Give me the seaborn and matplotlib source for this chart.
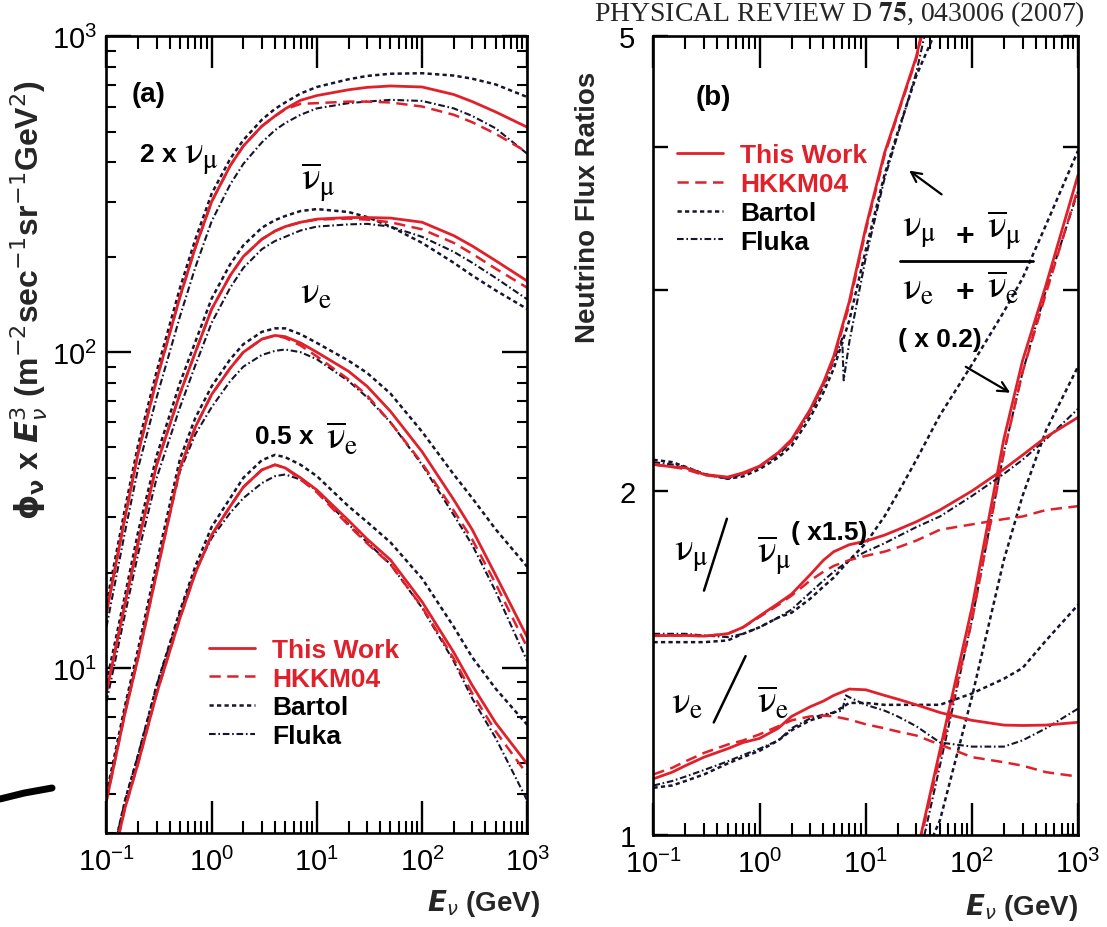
import numpy as np
import pandas as pd
import matplotlib
matplotlib.use("Agg")
import matplotlib.pyplot as plt
import matplotlib.ticker as mticker
from matplotlib.lines import Line2D
import seaborn as sns

# ---------------- data : panel (a)  phi * E^3 ----------------
E_a = [0.1, 0.15, 0.2, 0.3, 0.5, 0.7, 1, 1.5, 2, 3, 4, 5, 7, 10, 20, 30, 50, 100, 200, 300, 500, 1000]

numu2_this = [15, 30, 48, 82, 150, 215, 300, 390, 450, 520, 560, 590, 628, 650, 678, 690, 697, 692, 655, 622, 577, 516]
numu2_hkkm = [15, 30, 48, 82, 150, 215, 300, 390, 450, 520, 560, 588, 612, 615, 622, 622, 618, 600, 565, 535, 492, 430]
numu2_bart = [16, 32, 51, 87, 160, 228, 318, 410, 470, 545, 590, 618, 660, 692, 732, 750, 762, 765, 752, 735, 705, 643]
numu2_fluk = [13.5, 27, 43, 72, 130, 186, 260, 340, 395, 462, 505, 532, 565, 592, 615, 622, 630, 625, 592, 560, 512, 425]

numubar_this = [8.4, 16, 25, 44, 74, 100, 137, 175, 201, 228, 242, 250, 258, 264, 267, 267, 266, 258, 234, 217, 195, 168]
numubar_hkkm = [8.4, 16, 25, 44, 74, 100, 137, 175, 201, 228, 242, 250, 258, 263, 265, 263, 258, 245, 222, 205, 184, 160]
numubar_bart = [9.0, 17, 27, 47, 80, 108, 148, 190, 218, 248, 262, 270, 280, 284, 278, 268, 250, 222, 192, 175, 157, 137]
numubar_fluk = [7.8, 14.8, 23, 40, 67, 91, 124, 160, 185, 212, 225, 232, 243, 250, 254, 255, 250, 232, 208, 192, 172, 147]

nue_this = [3.8, 7.2, 10.8, 20, 43, 58, 73.5, 89, 100, 110, 113, 112, 107, 100, 87, 78, 65, 48.4, 34.1, 27.4, 19.7, 12.5]
nue_hkkm = [3.8, 7.2, 10.8, 20, 43, 58, 73.5, 89, 100, 110, 113, 111, 105, 97, 82, 73, 60, 44.5, 31.5, 25.5, 18.5, 11.6]
nue_bart = [4.0, 7.6, 11.5, 21.5, 46, 62, 78, 95, 106, 116, 119, 119, 114, 107, 94, 86, 74, 56, 41, 34.5, 27.5, 20.9]
nue_fluk = [3.9, 7.4, 11.0, 20.5, 42, 55, 67, 81, 90, 98, 101, 102, 100, 95, 81, 72, 60, 44, 30.5, 24.5, 17.5, 10.5]

nuebar5_this = [2.0, 3.6, 5.0, 8.3, 14.4, 20, 26.4, 32.5, 37.4, 42.4, 44, 43, 40, 36.6, 29.3, 25.6, 22.0, 16.2, 11.2, 8.8, 6.7, 4.96]
nuebar5_hkkm = [2.0, 3.6, 5.0, 8.3, 14.4, 20, 26.4, 32.5, 37.4, 42.4, 44, 43, 39.5, 36, 28.3, 24.8, 21.3, 15.6, 10.7, 8.3, 6.3, 4.6]
nuebar5_bart = [2.1, 3.8, 5.3, 8.8, 15.2, 21, 28, 34.5, 40, 45.5, 47.3, 46.5, 44, 40.5, 32.5, 29, 25, 19.2, 13.5, 10.8, 8.6, 6.6]
nuebar5_fluk = [2.1, 3.8, 5.3, 8.8, 15.0, 20.3, 25.8, 31, 34.5, 38.5, 40.5, 41, 39.5, 36.5, 28.5, 25, 21.3, 15.5, 10.5, 8.0, 6.0, 3.8]

# ---------------- data : panel (b)  flux ratios ----------------
E_b = [0.1, 0.15, 0.2, 0.3, 0.5, 0.7, 1, 1.5, 2, 3, 4, 5, 7, 10, 15, 20, 30, 50, 100, 200, 300, 500, 1000]

# (numu + numubar) / (nue + nuebar)  (drawn as is, and x 0.2)
mue_this = [2.11, 2.10, 2.096, 2.068, 2.057, 2.075, 2.103, 2.161, 2.219, 2.358, 2.49, 2.625, 2.93, 3.40, 3.95, 4.28, 4.80, 5.93, 7.9, 11.1, 13.0, 15.15, 18.9]
mue_hkkm = [2.11, 2.10, 2.09, 2.065, 2.055, 2.07, 2.10, 2.16, 2.21, 2.35, 2.48, 2.61, 2.91, 3.38, 3.93, 4.27, 4.78, 5.85, 7.7, 10.8, 12.7, 14.9, 18.4]
mue_bart = [2.13, 2.12, 2.10, 2.07, 2.05, 2.06, 2.09, 2.14, 2.19, 2.32, 2.44, 2.56, 2.82, 3.25, 3.78, 4.12, 4.62, 5.15, 6.6, 8.7, 9.9, 11.3, 12.85]
E_fl = [0.1, 0.15, 0.2, 0.3, 0.5, 0.7, 1, 1.5, 2, 3, 4, 5, 6, 6.2, 7, 10, 15, 20, 30, 50, 100, 200, 300, 500, 1000]
mue_fluk = [2.12, 2.11, 2.10, 2.07, 2.05, 2.07, 2.10, 2.15, 2.21, 2.34, 2.47, 2.60, 2.72, 2.50, 2.70, 3.20, 3.75, 4.10, 4.65, 5.75, 7.7, 10.8, 12.7, 15.0, 18.3]

# numu / numubar  (x 1.5)
mumu_this = [1.494, 1.495, 1.495, 1.493, 1.50, 1.52, 1.555, 1.595, 1.625, 1.69, 1.74, 1.77, 1.795, 1.808, 1.83, 1.85, 1.88, 1.925, 2.0, 2.09, 2.15, 2.23, 2.32]
mumu_hkkm = [1.494, 1.495, 1.495, 1.493, 1.50, 1.52, 1.552, 1.59, 1.62, 1.67, 1.70, 1.72, 1.74, 1.755, 1.77, 1.785, 1.81, 1.85, 1.87, 1.89, 1.90, 1.925, 1.94]
mumu_bart = [1.475, 1.475, 1.475, 1.475, 1.48, 1.50, 1.52, 1.55, 1.565, 1.61, 1.65, 1.68, 1.74, 1.80, 1.90, 1.99, 2.13, 2.33, 2.58, 2.87, 3.07, 3.42, 3.97]
mumu_fluk = [1.50, 1.50, 1.50, 1.495, 1.49, 1.50, 1.52, 1.55, 1.575, 1.63, 1.67, 1.70, 1.74, 1.77, 1.80, 1.825, 1.86, 1.90, 1.98, 2.07, 2.13, 2.22, 2.36]

# nue / nuebar
ee_this = [1.12, 1.135, 1.15, 1.17, 1.19, 1.205, 1.215, 1.24, 1.27, 1.295, 1.31, 1.325, 1.342, 1.34, 1.325, 1.315, 1.30, 1.28, 1.26, 1.248, 1.247, 1.248, 1.255]
ee_hkkm = [1.13, 1.145, 1.16, 1.18, 1.20, 1.21, 1.225, 1.245, 1.26, 1.27, 1.272, 1.27, 1.262, 1.25, 1.24, 1.232, 1.222, 1.20, 1.17, 1.158, 1.15, 1.135, 1.125]
ee_bart = [1.10, 1.105, 1.115, 1.13, 1.155, 1.17, 1.185, 1.21, 1.235, 1.26, 1.27, 1.28, 1.305, 1.305, 1.30, 1.30, 1.30, 1.30, 1.33, 1.37, 1.40, 1.48, 1.59]
E_fl2 = [0.1, 0.15, 0.2, 0.3, 0.5, 0.7, 1, 1.5, 2, 3, 4, 5, 6, 6.5, 7, 10, 15, 20, 30, 50, 100, 200, 300, 500, 1000]
ee_fluk = [1.105, 1.115, 1.125, 1.14, 1.16, 1.175, 1.19, 1.21, 1.24, 1.265, 1.275, 1.28, 1.285, 1.325, 1.32, 1.30, 1.285, 1.27, 1.245, 1.205, 1.195, 1.195, 1.21, 1.24, 1.29]

models = ["This Work", "HKKM04", "Bartol", "Fluka"]

# ---------------- style ----------------
sns.set_theme(style="ticks")
plt.rcParams["font.family"] = ["Liberation Sans", "DejaVu Sans"]
plt.rcParams["axes.linewidth"] = 1.9

RED = "#e0202a"
DARK = "#15152e"
styles = {
    "This Work": dict(color=RED, lw=2.0, ls="-"),
    "HKKM04": dict(color=RED, lw=1.8, ls=(0, (4.5, 2.6))),
    "Bartol": dict(color=DARK, lw=1.8, ls=(0, (1.7, 1.3))),
    "Fluka": dict(color=DARK, lw=1.5, ls=(0, (3.2, 1.3, 0.8, 1.3))),
}
draw_order = ["Bartol", "Fluka", "HKKM04", "This Work"]

fig = plt.figure(figsize=(11.07, 9.28), dpi=100)
ax1 = fig.add_axes([0.0962, 0.1013, 0.3801, 0.8583])
ax2 = fig.add_axes([0.5903, 0.0991, 0.3835, 0.8607])


def draw(ax, x, y, model, scale=1.0):
    st = styles[model]
    yy = [v * scale for v in y]
    sns.lineplot(x=x, y=yy, ax=ax, color=st["color"], linewidth=st["lw"],
                 linestyle=st["ls"], sort=False, estimator=None, legend=False)


# ---- panel (a)
groups_a = [
    (numu2_this, numu2_hkkm, numu2_bart, numu2_fluk),
    (numubar_this, numubar_hkkm, numubar_bart, numubar_fluk),
    (nue_this, nue_hkkm, nue_bart, nue_fluk),
    (nuebar5_this, nuebar5_hkkm, nuebar5_bart, nuebar5_fluk),
]
for grp in groups_a:
    d = dict(zip(models, grp))
    for m in draw_order:
        draw(ax1, E_a, d[m], m)

ax1.set_xscale("log")
ax1.set_yscale("log")
ax1.set_xlim(0.1, 1000)
ax1.set_ylim(3, 1000)

# ---- panel (b)
for scale in (1.0, 0.2):
    d = {"This Work": (E_b, mue_this), "HKKM04": (E_b, mue_hkkm),
         "Bartol": (E_b, mue_bart), "Fluka": (E_fl, mue_fluk)}
    for m in draw_order:
        draw(ax2, d[m][0], d[m][1], m, scale)
for d in ({"This Work": (E_b, mumu_this), "HKKM04": (E_b, mumu_hkkm),
           "Bartol": (E_b, mumu_bart), "Fluka": (E_b, mumu_fluk)},
          {"This Work": (E_b, ee_this), "HKKM04": (E_b, ee_hkkm),
           "Bartol": (E_b, ee_bart), "Fluka": (E_fl2, ee_fluk)}):
    for m in draw_order:
        draw(ax2, d[m][0], d[m][1], m)

ax2.set_xscale("log")
ax2.set_yscale("log")
ax2.set_xlim(0.1, 1000)
ax2.set_ylim(1, 5)
ax2.yaxis.set_major_locator(mticker.FixedLocator([1, 2, 3, 4, 5]))
ax2.yaxis.set_major_formatter(mticker.FixedFormatter(["1", "2", "", "", "5"]))
ax2.yaxis.set_minor_locator(mticker.NullLocator())

for ax in (ax1, ax2):
    ax.set_xlabel("")
    ax.set_ylabel("")
    ax.xaxis.set_major_locator(mticker.LogLocator(base=10, numticks=20))
    ax.xaxis.set_minor_locator(mticker.LogLocator(base=10, subs=np.arange(2, 10), numticks=20))
    ax.xaxis.set_minor_formatter(mticker.NullFormatter())
    ax.tick_params(which="both", direction="in", top=True, right=True, bottom=True, left=True,
                   colors="black")
    ax.tick_params(axis="x", which="major", length=23, width=1.7, labelsize=21, pad=10)
    ax.tick_params(axis="x", which="minor", length=9, width=1.5)
    for s in ax.spines.values():
        s.set_color("black")
        s.set_linewidth(1.9)

ax1.yaxis.set_minor_formatter(mticker.NullFormatter())
ax1.tick_params(axis="y", which="major", length=18, width=1.7, labelsize=21, pad=7)
ax1.tick_params(axis="y", which="minor", length=7, width=1.5)
ax2.tick_params(axis="y", which="major", length=11, width=1.7, labelsize=21, pad=13)

# ---- legends
for ax, anchor in ((ax1, (0.243, 0.245)), (ax2, (0.055, 0.866))):
    handles = [Line2D([], [], color=styles[m]["color"], lw=styles[m]["lw"], ls=styles[m]["ls"]) for m in models]
    leg = ax.legend(handles, models, loc="upper left", bbox_to_anchor=anchor, frameon=False,
                    fontsize=19, handlelength=1.75, handletextpad=0.65, labelspacing=0.18,
                    borderaxespad=0, borderpad=0)
    for t, c in zip(leg.get_texts(), [RED, RED, "black", "black"]):
        t.set_color(c)
        t.set_fontweight("bold")

# ---- annotations
tkw = dict(fontsize=19, fontweight="bold", color="black", va="center")
gkw = dict(fontsize=28, math_fontfamily="stix", color="black", va="center")


def put(ax, x, y, s, ha="left", greek=False, size=None):
    kw = dict(gkw if greek else tkw)
    if size is not None:
        kw["fontsize"] = size
    ax.text(x, y, s, transform=ax.transAxes, ha=ha, **kw)


# panel (a)
put(ax1, 0.099, 0.928, "(a)", ha="center", size=20)
put(ax1, 0.080, 0.852, "2 x")
put(ax1, 0.184, 0.848, r"$\mathrm{\nu_{\mu}}$", greek=True)
put(ax1, 0.503, 0.818, r"$\mathrm{\overline{\nu}_{\mu}}$", ha="center", greek=True)
put(ax1, 0.497, 0.678, r"$\mathrm{\nu_{e}}$", ha="center", greek=True)
put(ax1, 0.353, 0.498, "0.5 x")
put(ax1, 0.522, 0.496, r"$\mathrm{\overline{\nu}_{e}}$", greek=True)

# panel (b)
put(ax2, 0.140, 0.924, "(b)", ha="center", size=20)
put(ax2, 0.586, 0.756, r"$\mathrm{\nu_{\mu}}$", greek=True)
put(ax2, 0.734, 0.750, "+", ha="center", size=23)
put(ax2, 0.786, 0.758, r"$\mathrm{\overline{\nu}_{\mu}}$", greek=True)
ax2.plot([0.58, 0.895], [0.719, 0.719], transform=ax2.transAxes, color="black", lw=2.0)
put(ax2, 0.586, 0.684, r"$\mathrm{\nu_{e}}$", greek=True)
put(ax2, 0.734, 0.680, "+", ha="center", size=23)
put(ax2, 0.786, 0.686, r"$\mathrm{\overline{\nu}_{e}}$", greek=True)
put(ax2, 0.675, 0.621, "( x 0.2)", ha="center")
ax2.annotate("", xy=(0.597, 0.834), xytext=(0.684, 0.800), xycoords="axes fraction",
             arrowprops=dict(arrowstyle="->", color="black", lw=1.6, mutation_scale=18))
ax2.annotate("", xy=(0.846, 0.552), xytext=(0.730, 0.588), xycoords="axes fraction",
             arrowprops=dict(arrowstyle="->", color="black", lw=1.6, mutation_scale=18))

put(ax2, 0.048, 0.351, r"$\mathrm{\nu_{\mu}}$", greek=True)
ax2.plot([0.119, 0.173], [0.306, 0.396], transform=ax2.transAxes, color="black", lw=1.8)
put(ax2, 0.243, 0.351, r"$\mathrm{\overline{\nu}_{\mu}}$", greek=True)
put(ax2, 0.415, 0.379, "( x1.5)", ha="center")

put(ax2, 0.041, 0.166, r"$\mathrm{\nu_{e}}$", greek=True)
ax2.plot([0.142, 0.217], [0.141, 0.224], transform=ax2.transAxes, color="black", lw=1.8)
put(ax2, 0.243, 0.166, r"$\mathrm{\overline{\nu}_{e}}$", greek=True)

# ---- axis labels
fig.text(0.026, 1 - 300 / 928,
         r"$\mathbf{\phi_{\nu}}$ x $\mathbfit{E}_{\nu}^{3}$ (m$^{-2}$sec$^{-1}$sr$^{-1}$GeV$^{2}$)",
         rotation=90, ha="center", va="center", fontsize=23, fontweight="bold")
fig.text(588 / 1107, 1 - 207 / 928, "Neutrino Flux Ratios", rotation=90, ha="center", va="center",
         fontsize=20, fontweight="bold")
ax1.text(1.03, -0.068, r"$\mathbfit{E}_{\nu}$ (GeV)", transform=ax1.transAxes, ha="right", va="top",
         fontsize=20, fontweight="bold")
ax2.text(1.0, -0.07, r"$\mathbfit{E}_{\nu}$ (GeV)", transform=ax2.transAxes, ha="right", va="top",
         fontsize=20, fontweight="bold")

fig.text(1085 / 1107, 1 - 21 / 928, r"PHYSICAL REVIEW D $\mathbf{75}$, 043006 (2007)", ha="right",
         va="baseline", family=["Liberation Serif", "DejaVu Serif"], math_fontfamily="stix", fontsize=20)

fig.add_artist(Line2D([0.0, 0.022, 0.047], [1 - 800 / 928, 1 - 794 / 928, 1 - 789 / 928],
                      transform=fig.transFigure, color="black", lw=5, solid_capstyle="round"))

fig.savefig("out.png", dpi=100)
